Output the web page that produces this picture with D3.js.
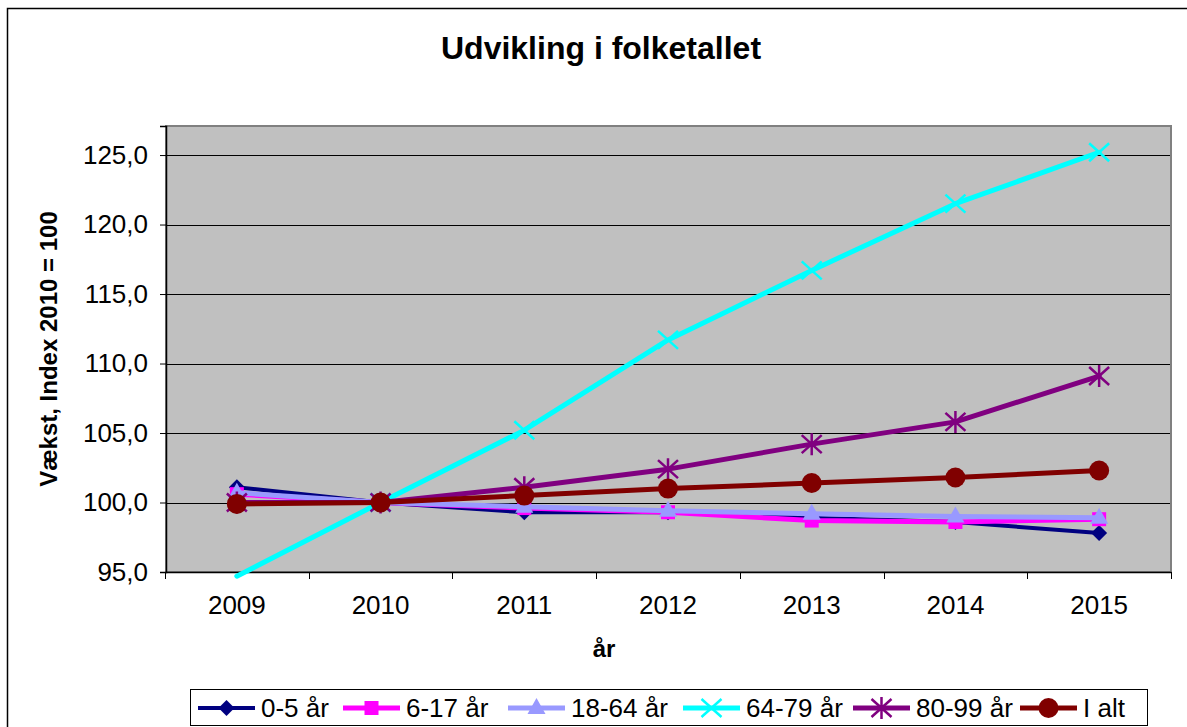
<!DOCTYPE html>
<html><head><meta charset="utf-8">
<script src="https://cdn.jsdelivr.net/npm/d3@7"></script>
<style>body{margin:0;background:#fff;} svg{display:block;font-family:"Liberation Sans",Arial,sans-serif;}</style>
</head><body>
<svg id="chart" width="1187" height="727"></svg>
<script>
const years = ["2009","2010","2011","2012","2013","2014","2015"];
const seriesNames = ["0-5 år","6-17 år","18-64 år","64-79 år","80-99 år","I alt"];
const s0_5   = [101.1,100.0, 99.3, 99.3, 98.9, 98.6, 97.8];
const s6_17  = [100.6,100.0, 99.6, 99.3, 98.7, 98.6, 98.8];
const s18_64 = [100.7,100.0, 99.7, 99.4, 99.2, 99.0, 98.9];
const s64_79 = [ 94.7,100.0,105.2,111.7,116.7,121.5,125.2];
const s80_99 = [100.0,100.0,101.1,102.4,104.2,105.8,109.1];
const sTotal = [ 99.9,100.0,100.5,101.0,101.4,101.8,102.3];
const yTicks = [95,100,105,110,115,120,125];
const colors = ["#000080","#FF00FF","#9999FF","#00FFFF","#800080","#800000"];
const markers = ["diamond","square","triangle","x","star","circle"];
const widths = [4,5,5,5,5,5];
const seriesValues = [s0_5,s6_17,s18_64,s64_79,s80_99,sTotal];

const svg = d3.select("#chart");
const L=166, R=1171, T=126, B=572;

svg.append("rect").attr("x",7.5).attr("y",8.5).attr("width",1200).attr("height",740)
  .attr("fill","#fff").attr("stroke","#000").attr("stroke-width",1.5);

svg.append("text").attr("x",601).attr("y",59).attr("text-anchor","middle")
  .attr("font-size",32).attr("font-weight","bold").text("Udvikling i folketallet");

const x = d3.scaleBand().domain(years).range([L-1,R]).padding(0);
const cx = d => x(d)+x.bandwidth()/2;
const y = d3.scaleLinear().domain([95,127.09]).range([B,T]);

svg.append("rect").attr("x",L).attr("y",T).attr("width",R-L).attr("height",B-T)
  .attr("fill","#C0C0C0").attr("stroke","#808080").attr("stroke-width",2);

svg.append("g").selectAll("line").data(yTicks.filter(v=>v>95)).join("line")
  .attr("x1",L).attr("x2",R-1).attr("y1",d=>Math.round(y(d))+0.5).attr("y2",d=>Math.round(y(d))+0.5)
  .attr("stroke","#000").attr("stroke-width",1);

const yAxis = d3.axisLeft(y).tickValues(yTicks).tickSize(6).tickPadding(12)
  .tickFormat(d=>d3.format(".1f")(d).replace(".",","));
const gy = svg.append("g").attr("transform",`translate(${L},0)`).call(yAxis);
gy.select(".domain").attr("stroke","#000").attr("stroke-width",1.5);
gy.selectAll(".tick line").attr("stroke","#000");
gy.selectAll(".tick text").attr("font-size",26).attr("font-family","Liberation Sans, Arial").attr("fill","#000");

const xAxis = d3.axisBottom(x).tickSize(0).tickPadding(24);
const gx = svg.append("g").attr("transform",`translate(0,${B})`).call(xAxis);
gx.select(".domain").attr("stroke","#000").attr("stroke-width",1.5);
gx.selectAll(".tick text").attr("font-size",26).attr("font-family","Liberation Sans, Arial").attr("fill","#000");
svg.append("g").selectAll("line").data(years.concat(["end"])).join("line")
  .attr("x1",(d,i)=>Math.round(i<years.length?x(d):R)+0.5).attr("x2",(d,i)=>Math.round(i<years.length?x(d):R)+0.5)
  .attr("y1",B).attr("y2",B+7).attr("stroke","#000").attr("stroke-width",1);

svg.append("text").attr("x",604).attr("y",657).attr("text-anchor","middle")
  .attr("font-size",24).attr("font-weight","bold").text("år");
svg.append("text").attr("transform","translate(57,349) rotate(-90)").attr("text-anchor","middle")
  .attr("font-size",24).attr("font-weight","bold").text("Vækst, Index 2010 = 100");

function drawMarker(g, type, px, py, color){
  if(type==="diamond"){
    g.append("path").attr("d",`M${px},${py-8}L${px+8},${py}L${px},${py+8}L${px-8},${py}Z`).attr("fill",color);
  } else if(type==="square"){
    g.append("rect").attr("x",px-7).attr("y",py-7).attr("width",14).attr("height",14).attr("fill",color);
  } else if(type==="triangle"){
    g.append("path").attr("d",`M${px},${py-10}L${px+9},${py+6}L${px-9},${py+6}Z`).attr("fill",color);
  } else if(type==="x"){
    g.append("path").attr("d",`M${px-10},${py-9}L${px+10},${py+9}M${px-10},${py+9}L${px+10},${py-9}`)
      .attr("stroke",color).attr("stroke-width",2.5);
  } else if(type==="star"){
    g.append("path").attr("d",`M${px-10},${py-9}L${px+10},${py+9}M${px-10},${py+9}L${px+10},${py-9}M${px},${py-11}L${px},${py+11}`)
      .attr("stroke",color).attr("stroke-width",2.5);
  } else if(type==="circle"){
    g.append("circle").attr("cx",px).attr("cy",py).attr("r",10).attr("fill",color);
  }
}

const line = d3.line().x((d,i)=>cx(years[i])).y(d=>y(d));
seriesValues.forEach((vals,si)=>{
  const g = svg.append("g");
  g.append("path").attr("d",line(vals)).attr("fill","none").attr("stroke",colors[si])
    .attr("stroke-width",widths[si]).attr("stroke-linejoin","round").attr("stroke-linecap","round");
  vals.forEach((v,i)=>{ if(v>=95) drawMarker(g, markers[si], cx(years[i]), y(v), colors[si]); });
});

const lg = svg.append("g");
lg.append("rect").attr("x",190.5).attr("y",689.5).attr("width",957).attr("height",36)
  .attr("fill","#fff").attr("stroke","#000").attr("stroke-width",1);
const legX = [198,343,508,683,853,1020];
seriesNames.forEach((n,i)=>{
  const x0 = legX[i], yy = 708;
  lg.append("line").attr("x1",x0).attr("x2",x0+57).attr("y1",yy).attr("y2",yy)
    .attr("stroke",colors[i]).attr("stroke-width",widths[i]);
  drawMarker(lg, markers[i], x0+28.5, yy, colors[i]);
  lg.append("text").attr("x",x0+63).attr("y",yy+9).attr("font-size",26).text(n);
});
</script>
</body></html>
